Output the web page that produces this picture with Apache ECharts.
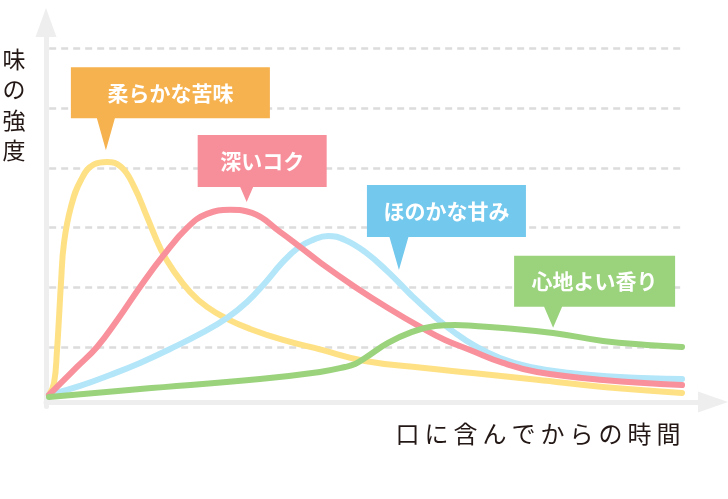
<!DOCTYPE html>
<html><head><meta charset="utf-8">
<script src="https://cdn.jsdelivr.net/npm/echarts@6/dist/echarts.min.js"></script>
<style>html,body{margin:0;padding:0;background:#fff}#c{width:728px;height:499px}</style>
</head><body><div id="c"></div>
<script>
// ---- data (x: time 0..100, y: intensity, gridlines every 10) ----
const bitter = [[0.47,1.95],[1.26,3.96],[1.73,9.5],[2.04,14.9],[2.35,20.7],[2.83,27.5],[3.92,33.5],[5.49,38.0],[7.54,40.6],[9.58,41.0],[11.77,40.2],[13.82,36.9],[15.86,31.8],[18.05,26.3],[19.94,22.9],[22.61,19.23],[25.27,16.71],[28.41,14.7],[32.03,13.02],[37.21,11.17],[43.01,9.58],[50.08,7.65],[59.03,6.5],[67.35,5.6],[77.08,4.5],[87.44,3.3],[99.84,2.3]];
const rich  = [[0.47,1.95],[4.87,6.64],[8.01,10.0],[11.30,14.7],[14.76,20.07],[18.37,25.27],[22.29,30.13],[25.27,32.31],[28.89,32.99],[32.34,32.48],[36.73,29.3],[39.87,26.78],[43.33,23.93],[48.51,20.07],[53.69,16.54],[59.03,13.19],[62.64,11.17],[66.56,9.5],[71.74,7.32],[77.08,5.81],[87.44,4.46],[99.84,3.62]];
const sweet = [[0.47,1.95],[5.34,3.46],[10.05,5.3],[14.76,7.32],[19.47,9.66],[24.18,12.18],[28.41,14.87],[31.55,17.55],[34.38,20.74],[37.05,24.09],[39.56,26.61],[41.92,27.95],[44.27,28.62],[46.94,27.95],[50.08,25.94],[53.69,22.58],[57.46,18.55],[61.07,15.03],[64.21,12.35],[67.35,10.17],[71.27,8.15],[75.98,6.64],[82.26,5.64],[90.11,4.97],[99.84,4.63]];
const aroma = [[0.47,1.61],[14.76,2.95],[33.59,4.63],[43.01,5.81],[46.94,6.64],[48.51,7.15],[50.08,8.15],[53.69,10.67],[57.46,12.52],[61.07,13.52],[64.21,13.69],[67.35,13.52],[71.74,13.19],[79.59,12.35],[87.44,11.01],[94.35,10.34],[99.84,10.0]];
const gridValues = [10,20,30,40,50,60];
const calloutLabels = ['柔らかな苦味','深いコク','ほのかな甘み','心地よい香り'];
const calloutAnchors = [[9.4,43.0],[31.5,34.3],[55.4,22.9],[79.6,13.2]];
const yTitle = '味の強度';
const xTitle = '口に含んでからの時間';

// ---- styles ----
const lineColors = ['#FFE185','#F8919B','#B3E6F9','#9BD37D'];
const boxColors  = ['#F6B24E','#F78F9A','#72C8ED','#9BD37D'];
// callout geometry: box w, box h, tail x (from box left), tail half-width, tail height
const calloutGeom = [[199,51,35,9,32],[129,52,49,6.5,15],[159,52,32,9.5,33],[161,51,39,9,21]];
const FONT = '"Noto Sans CJK JP","Noto Sans CJK SC",sans-serif';

function callout(i){
  const [w,h,tx,hw,th] = calloutGeom[i];
  const path = `path://M0,0 H${w} V${h} H${tx+hw} L${tx},${h+th} L${tx-hw},${h} H0 Z`;
  return {
    markPoint:{
      z:5, silent:true, animation:false,
      data:[{
        name: calloutLabels[i], coord: calloutAnchors[i],
        symbol: path, symbolSize:[w,h+th], symbolOffset:[w/2-tx, -(h+th)/2],
        itemStyle:{color: boxColors[i]},
        label:{show:true, position:'inside', offset:[0,-th/2], formatter:'{b}',
          color:'#fff', fontSize:21, fontWeight:'bold', fontFamily:FONT}
      }]
    }
  };
}

const seriesData = [bitter, rich, sweet, aroma];
const order = [0,2,1,3];
const series = order.map(i => Object.assign({
  type:'line', data: seriesData[i], smooth:0.45, showSymbol:false, silent:true,
  z: 2,
  lineStyle:{width:6, color: lineColors[i], cap:'round', join:'round'},
  emphasis:{disabled:true}
}, callout(i)));

series.unshift({
  type:'line', data:[], silent:true,
  markLine:{
    z:1, silent:true, symbol:['none','none'], animation:false,
    label:{show:false},
    lineStyle:{type:[7,5], color:'#dcdcdc', width:2.5},
    emphasis:{disabled:true},
    data: gridValues.map(v => [{coord:[0.5,v]},{coord:[100,v]}])
  }
});

const axisLineStyle = {color:'#eeeeee', width:5};
const chart = echarts.init(document.getElementById('c'), null, {renderer:'canvas'});
chart.setOption({
  animation:false,
  grid:{left:46, right:15, top:22.5, bottom:92.4, containLabel:false},
  xAxis:{type:'value', min:0, max:104.7, offset:-4.6,
    axisLine:{show:true, onZero:false, symbol:['none','triangle'], symbolSize:[21,30], lineStyle:axisLineStyle},
    axisTick:{show:false}, axisLabel:{show:false}, splitLine:{show:false}},
  yAxis:{type:'value', min:0, max:64.4,
    axisLine:{show:true, onZero:false, symbol:['none','triangle'], symbolSize:[21,29], lineStyle:axisLineStyle},
    axisTick:{show:false}, axisLabel:{show:false}, splitLine:{show:false}},
  graphic:[
    {type:'text', x:14, y:44, silent:true,
      style:{text: yTitle.split('').join('\n'), font:`23px ${FONT}`, fill:'#231815',
        align:'center', verticalAlign:'top', lineHeight:30.5}},
    {type:'text', x:683, y:434, silent:true,
      style:{text: xTitle.split('').map(c=>'{c|'+c+'}').join(''), align:'right', verticalAlign:'middle',
        rich:{c:{fontSize:24, fontFamily:FONT, fill:'#231815', padding:[0,2.5,0,2.5]}}}}
  ],
  series
});
</script></body></html>
